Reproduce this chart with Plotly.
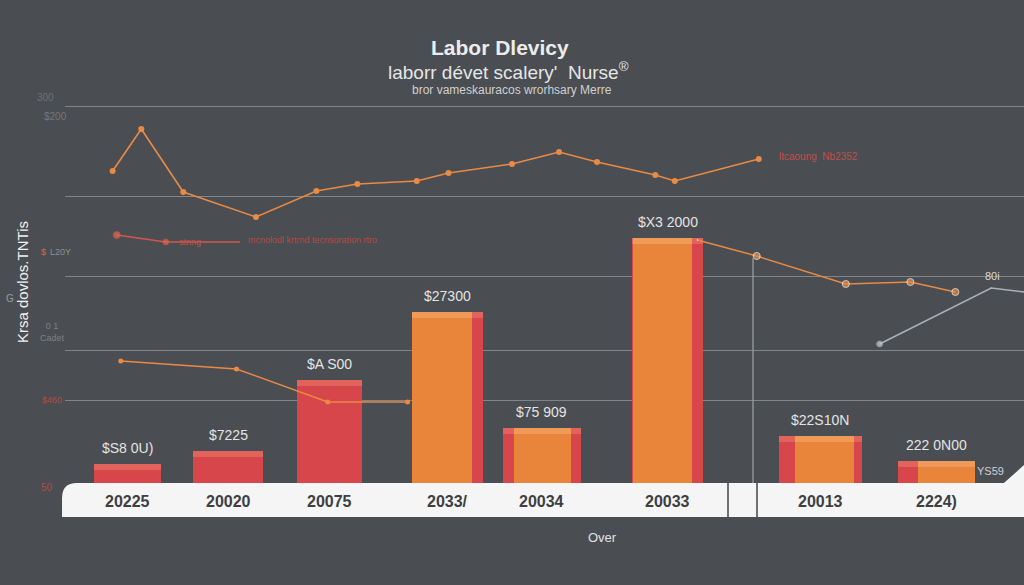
import plotly.graph_objects as go

# ---------------- data ----------------
years = ["20225", "20020", "20075", "2033/", "20034", "20033", "20013", "2224)"]
bar_period = [12.5, 22.3, 32.2, 43.7, 52.9, 65.2, 80.1, 91.5]
red_values = [2600, 3900, 11000, 17800, 6200, 25200, 5400, 2900]
orange_values = [None, None, None, 17800, 6200, 25200, 5400, 2900]
bar_labels = ["$S8 0U)", "$7225", "$A S00", "$27300", "$75 909", "$X3 2000", "$22S10N", "222 0N00"]

upper_period = [11.0, 13.8, 17.9, 25.0, 30.9, 34.9, 40.7, 43.8, 50.0, 54.6, 58.3, 64.0, 65.9, 74.1]
upper_values = [31900, 36100, 29800, 27300, 29900, 30600, 30900, 31700, 32600, 33800, 32800, 31500, 30900, 33100]

red_line_period = [11.4, 16.2, 23.4]
red_line_values = [25500, 24800, 24800]

lower_period = [11.8, 23.1, 32.0, 39.8]
lower_values = [12900, 12100, 8800, 8800]

right_period = [68.1, 73.9, 82.6, 88.9, 93.3]
right_values = [25000, 23400, 20600, 20800, 19800]

gray_period = [85.9, 96.8, 100.0]
gray_values = [14600, 20200, 19800]

grid_values = [38400, 29400, 21400, 14000, 9000]

# ---------------- styles ----------------
BG = "#4a4d51"
RED = "#d6464a"
ORANGE = "#e8853b"
LINE_OR = "#e98a45"
FONT = "Liberation Sans, Arial, sans-serif"

red_w = [6.54, 6.84, 6.35, 6.93, 7.62, 6.93, 8.11, 7.52]
or_w = [0.1, 0.1, 0.1, 5.86, 5.57, 5.76, 5.76, 5.66]
or_off = [0, 0, 0, -3.47, -2.73, -3.37, -2.49, -1.90]
STRIP = 600

fig = go.Figure()

# bars: red body, orange face, lighter top strips
fig.add_trace(go.Bar(
    x=bar_period, y=red_values, width=red_w,
    marker=dict(color=RED, line=dict(width=0)),
    hoverinfo="skip", showlegend=False,
))
fig.add_trace(go.Bar(
    x=bar_period, y=[STRIP] * len(red_values), base=[v - STRIP for v in red_values],
    width=red_w, marker=dict(color="#e2625c", line=dict(width=0)),
    hoverinfo="skip", showlegend=False,
))
fig.add_trace(go.Bar(
    x=bar_period, y=orange_values, width=or_w, offset=or_off,
    marker=dict(color=ORANGE, line=dict(width=0)),
    hoverinfo="skip", showlegend=False,
))
fig.add_trace(go.Bar(
    x=bar_period, y=[STRIP if v is not None else None for v in orange_values],
    base=[v - STRIP if v is not None else None for v in orange_values],
    width=or_w, offset=or_off, marker=dict(color="#f09a5a", line=dict(width=0)),
    hoverinfo="skip", showlegend=False,
))

# lines
fig.add_trace(go.Scatter(
    x=upper_period, y=upper_values, mode="lines+markers",
    line=dict(color=LINE_OR, width=1.6), marker=dict(size=6, color=LINE_OR),
    showlegend=False, hoverinfo="skip", cliponaxis=False,
))
fig.add_trace(go.Scatter(
    x=red_line_period, y=red_line_values, mode="lines+markers",
    line=dict(color="#d2574f", width=1.6), marker=dict(size=[7, 6, 1], color="#e46a4e"),
    showlegend=False, hoverinfo="skip", cliponaxis=False,
))
fig.add_trace(go.Scatter(
    x=lower_period, y=lower_values, mode="lines+markers",
    line=dict(color=LINE_OR, width=1.4), marker=dict(size=5, color=LINE_OR),
    showlegend=False, hoverinfo="skip", cliponaxis=False,
))
fig.add_trace(go.Scatter(
    x=right_period, y=right_values, mode="lines+markers",
    line=dict(color=LINE_OR, width=1.4), marker=dict(size=[1, 7, 7, 7, 7], color=LINE_OR),
    showlegend=False, hoverinfo="skip", cliponaxis=False,
))
fig.add_trace(go.Scatter(
    x=gray_period, y=gray_values, mode="lines+markers",
    line=dict(color="#aab0b6", width=1.6), marker=dict(size=[6, 1, 1], color="#c9cdd1"),
    showlegend=False, hoverinfo="skip", cliponaxis=False,
))

fig.update_layout(
    width=1024, height=585,
    paper_bgcolor=BG, plot_bgcolor=BG,
    margin=dict(l=65, r=0, t=100, b=95),
    barmode="overlay", bargap=0,
    font=dict(family=FONT, color="#e6e6e6"),
    xaxis=dict(range=[6.35, 100], showgrid=False, zeroline=False,
               showticklabels=False, ticks="", showline=False, fixedrange=True),
    yaxis=dict(range=[0, 39000], tickvals=grid_values, showticklabels=False,
               gridcolor="#80858a", gridwidth=1, zeroline=False, ticks="",
               showline=False, fixedrange=True),
)

shapes = []
# white band
shapes.append(dict(
    type="path", xref="paper", yref="paper", layer="above",
    path="M -0.0031,-0.0692 L -0.0031,-0.0205 Q -0.0031,0.0179 0.0125,0.0179 "
         "L 0.979,0.0179 L 1,0.064 L 1,-0.0692 Z",
    fillcolor="#f5f5f5", line=dict(width=0),
))
# vertical separators
for xp, y0, y1, col, w in [((753 - 65) / 959, (490 - 483) / 390, (490 - 258) / 390, "#8e9398", 1.5),
                           ((728 - 65) / 959, -0.069, 0.018, "#6d7074", 2),
                           ((757 - 65) / 959, -0.069, 0.018, "#6d7074", 2)]:
    shapes.append(dict(type="line", xref="paper", yref="paper", layer="above",
                       x0=xp, x1=xp, y0=y0, y1=y1, line=dict(color=col, width=w)))
fig.update_layout(shapes=shapes)

ann = []


def px_ann(text, px, py, size, color, **kw):
    ann.append(dict(text=text, x=(px - 65) / 959, y=(490 - py) / 390,
                    xref="paper", yref="paper", showarrow=False,
                    xanchor="center", yanchor="middle",
                    font=dict(size=size, color=color), **kw))


# titles
px_ann("<b>Labor Dlevicy</b>", 500, 47, 21, "#ececec")
px_ann("laborr dévet scalery'  Nurse<sup>®</sup>", 508, 71, 19, "#e6e6e6")
px_ann("bror vameskauracos wrorhsary Merre", 512, 90, 12, "#d0d0d0")

# bar value labels
for xv, yv, lab in zip(bar_period, red_values, bar_labels):
    ann.append(dict(text=lab, x=xv, y=yv, yanchor="bottom", xanchor="center", yshift=6,
                    showarrow=False, font=dict(size=14, color="#e4e4e4")))
# x category labels on the band
for xv, lab in zip(bar_period, years):
    ann.append(dict(text="<b>" + lab + "</b>", x=xv, y=-(502 - 490) / 390, yref="paper",
                    xanchor="center", yanchor="middle",
                    showarrow=False, font=dict(size=16, color="#3d3f42")))

px_ann("Over", 602, 537, 13, "#e2e2e2")
px_ann("Krsa dovlos.TNTis", 22, 282, 15, "#f0f0f0", textangle=-90)
px_ann("G", 10, 298, 10, "#9a9da0")
px_ann("300", 45, 97, 10, "#6f7276")
px_ann("$200", 55, 117, 10, "#74777b")
px_ann("L20Y", 60, 252, 9, "#8d9094")
px_ann("$", 43, 252, 9, "#d46a3a")
px_ann("0 1<br>Cadet", 52, 332, 9, "#7e8185")
px_ann("$460", 52, 400, 9, "#b84a44")
px_ann("50", 47, 487, 10, "#b84a44")
px_ann("stnng", 190, 242, 9, "#c4504a")
px_ann("mcnolodl krtrnd tecnsoration rtro", 312, 240, 9, "#b84a44")
px_ann("ltcaoung  Nb2352", 818, 156, 10, "#c0504a")
px_ann("80i", 992, 276, 11, "#d8d8d8")
px_ann("YS59", 990, 471, 11, "#cfd2d5")

fig.update_layout(annotations=ann)
fig.write_html("out.html", config={"displayModeBar": False},
               post_script="document.body.style.margin='0';")
